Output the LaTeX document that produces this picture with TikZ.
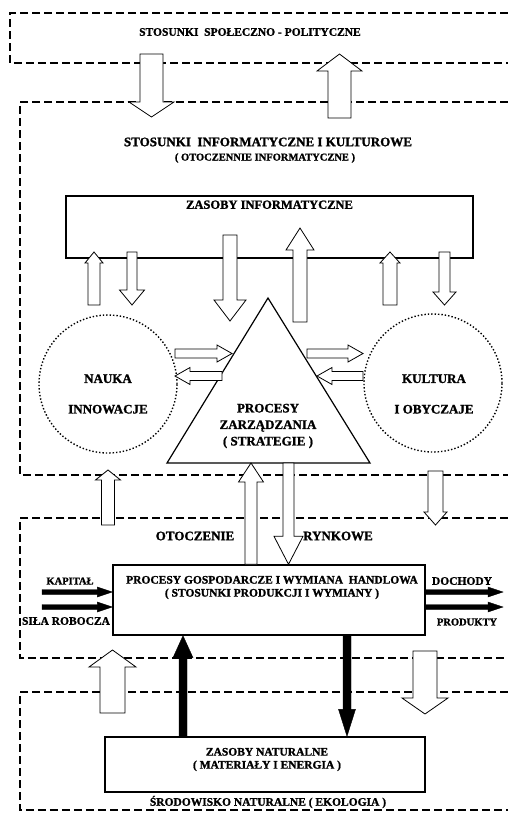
\documentclass[tikz,border=0pt]{standalone}
\usepackage{fontspec}
\setmainfont{Liberation Serif}[BoldFeatures={FakeBold=1.3}]
\usetikzlibrary{calc,positioning}

\tikzset{
  shaft/.store in=\shaftw, head/.store in=\headw, tip/.store in=\tipl,
  shaft=6, head=12, tip=14,
  hollow/.style={draw, fill=white, line width=0.8pt, line join=miter,
    to path={let \p1=(\tikztostart), \p2=(\tikztotarget),
      \n1={atan2(\y2-\y1,\x2-\x1)}, \n2={veclen(\x2-\x1,\y2-\y1)} in
      {[shift={(\p1)}, rotate=\n1, x=1pt, y=1pt]
        (0,-\shaftw) -- (\n2-\tipl,-\shaftw) -- (\n2-\tipl,-\headw) -- (\n2,0)
        -- (\n2-\tipl,\headw) -- (\n2-\tipl,\shaftw) -- (0,\shaftw) -- cycle}}},
  blackarr/.style={hollow, fill=black, line width=0.4pt}
}

\begin{document}
\begin{tikzpicture}[x=1pt, y=-1pt,
    region/.style={draw, line width=1.8pt, dash pattern=on 8pt off 4pt},
    box/.style={draw, line width=1.4pt, inner sep=0pt},
    ring/.style={circle, draw, dotted, line width=1.4pt, inner sep=0pt, minimum size=138pt},
    txtS/.style={inner sep=0pt, align=center, font=\bfseries\fontsize{10.5}{13}\selectfont},
    txt/.style={txtS, font=\bfseries\fontsize{11.5}{13}\selectfont},
    txtM/.style={txtS, font=\bfseries\fontsize{12.5}{15}\selectfont},
    txtL/.style={txtS, font=\bfseries\fontsize{13}{16.5}\selectfont}]

\useasboundingbox (0,0) rectangle (508,815);

% Regions
\draw[region] (508,13) -| (10,63) -- (508,63);
\draw[region] (508,102) -| (20,475) -- (508,475);
\draw[region] (508,518) -| (20,658) -- (508,658);
\draw[region] (508,692) -| (20,810) -- (508,810);

% Nodes
\node[txt] (polit) at (250,32) {STOSUNKI \ SPOŁECZNO - POLITYCZNE};
\node[txtL] (inform) at (268,142) {STOSUNKI \ INFORMATYCZNE I KULTUROWE};
\node[txtS] (otocz) at (265,158) {( OTOCZENNIE INFORMATYCZNE )};

\node[box, minimum width=407pt, minimum height=62pt] (zasoby) at (269.5,227) {};
\node[txtM, below=5pt of zasoby.north] (zasobytxt) {ZASOBY INFORMATYCZNE};

\node[ring] (nauka) at (108,384) {};
\node[txtL] (naukatxt) at (108,394) {NAUKA\\[14pt]INNOWACJE};
\node[ring] (kultura) at (433,383) {};
\node[txtL] (kulturatxt) at (434,394) {KULTURA\\[14pt]I OBYCZAJE};

\coordinate (apex) at (268,298);
\coordinate (bl) at (167,463);
\coordinate (br) at (370,463);
\draw[line width=1.2pt] (apex) -- (br) -- (bl) -- cycle;
\node[txtL] (zarz) at (268,426) {PROCESY\\ZARZĄDZANIA\\( STRATEGIE )};

\node[txtL] (otoczenie) at (195,536) {OTOCZENIE};
\node[txtL] (rynkowe) at (338,536) {RYNKOWE};

\node[box, minimum width=312pt, minimum height=70pt] (procesy) at (269,600) {};
\node[txt] (procesytxt) at (272,587.5) {PROCESY GOSPODARCZE I WYMIANA \ HANDLOWA\\( STOSUNKI PRODUKCJI I WYMIANY )};
\node[txtS] (kapital) at (70,581) {KAPITAŁ};
\node[txt] (sila) at (66,621) {SIŁA ROBOCZA};
\node[txt] (dochody) at (462,581) {DOCHODY};
\node[txtS] (produkty) at (467,622) {PRODUKTY};

\node[box, minimum width=320pt, minimum height=55pt] (natur) at (265,764.5) {};
\node[txt] (naturtxt) at (267,759.5) {ZASOBY NATURALNE\\( MATERIAŁY I ENERGIA )};
\node[txt] (ekologia) at (268,802) {ŚRODOWISKO NATURALNE ( EKOLOGIA )};

% Arrows
\draw[hollow, shaft=11.5, head=22.5, tip=15] (151.5,54) to (151.5,117);
\draw[hollow, shaft=11.5, head=22.5, tip=17] (339.5,118) to (339.5,54);

\draw[hollow, shaft=6, head=9, tip=11] (94,305) to (94,252);
\draw[hollow, shaft=5, head=12.5, tip=15] (132,252) to (132,305);
\draw[hollow, shaft=7, head=16, tip=21] (230,235) to (230,321);
\draw[hollow, shaft=7, head=14, tip=22] (300,322) to (300,228);
\draw[hollow, shaft=7, head=10, tip=11] (390,305) to (390,252);
\draw[hollow, shaft=5.5, head=11.5, tip=13] (444.5,252) to (444.5,305);

\draw[hollow, shaft=4.5, head=8.5, tip=15] (175,353.5) to (232,353.5);
\draw[hollow, shaft=4.5, head=8.5, tip=15] (222,376) to (175,376);
\draw[hollow, shaft=4.5, head=8.5, tip=15] (307,353.5) to (363,353.5);
\draw[hollow, shaft=4.5, head=8.5, tip=15] (363,376) to (317,376);

\draw[hollow, shaft=6.5, head=12.5, tip=10] (108,525) to (108,470);
\draw[hollow, shaft=7.5, head=11.5, tip=13] (435.5,471) to (435.5,525);

\draw[hollow, shaft=6, head=12.5, tip=19] (procesy.north -| 251,0) to (251,463);
\draw[hollow, shaft=5.5, head=14.5, tip=28] (288.5,463) to (procesy.north -| 288.5,0);

\draw[blackarr, shaft=4, head=10, tip=22] (natur.north -| 183,0) to (procesy.south -| 183,0);
\draw[blackarr, shaft=4, head=8.5, tip=27] (procesy.south -| 347,0) to (natur.north -| 347,0);

\draw[blackarr, shaft=2.5, head=5, tip=15] (42,592) to (procesy.west |- 0,592);
\draw[blackarr, shaft=2.5, head=5, tip=15] (42,607) to (procesy.west |- 0,607);
\draw[blackarr, shaft=2.5, head=5, tip=15] (procesy.east |- 0,592) to (503,592);
\draw[blackarr, shaft=2.5, head=5, tip=15] (procesy.east |- 0,607) to (503,607);

\draw[hollow, shaft=12.5, head=23.5, tip=17] (112.5,713) to (112.5,650);
\draw[hollow, shaft=12, head=23, tip=16] (425,651) to (425,714);

\end{tikzpicture}
\end{document}
